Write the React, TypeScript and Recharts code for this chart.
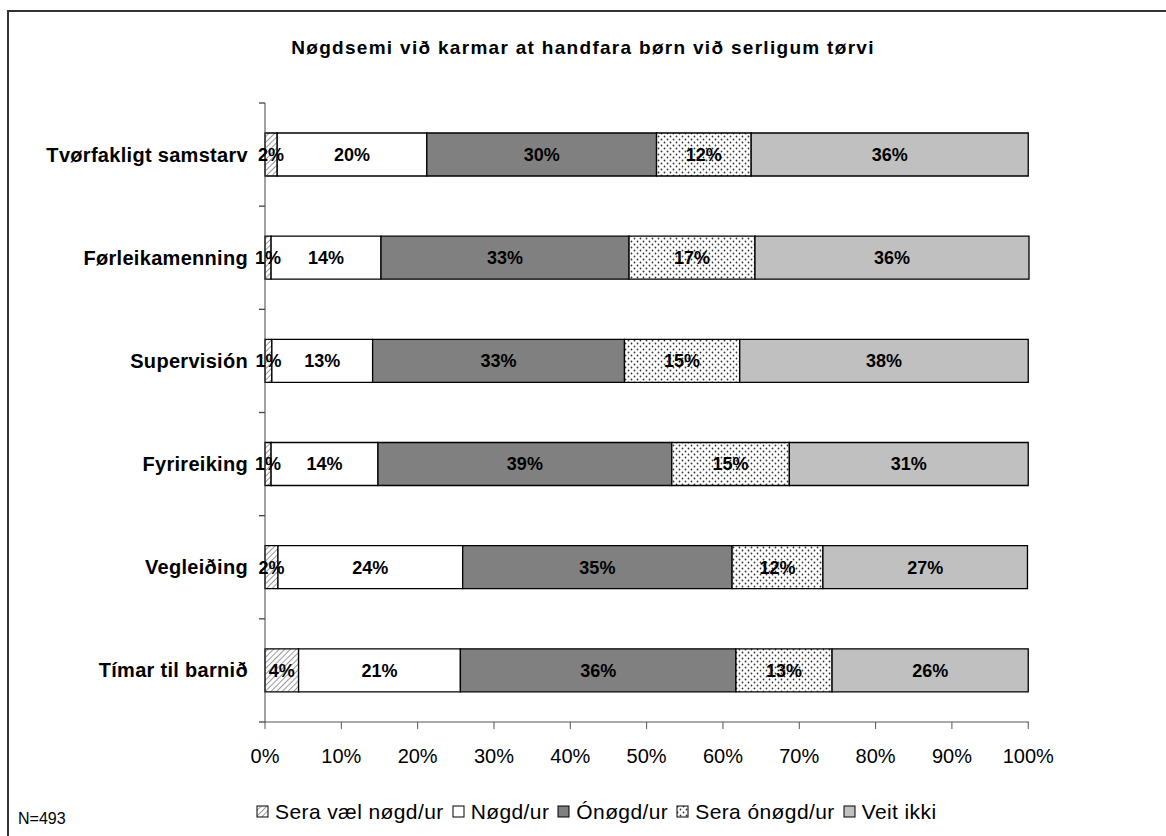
import { BarChart, Bar, XAxis, YAxis, LabelList } from 'recharts';

const categories = ['Tvørfakligt samstarv', 'Førleikamenning', 'Supervisión', 'Fyrireiking', 'Vegleiðing', 'Tímar til barnið'];
const seraVael = [1.6, 0.8, 0.9, 0.8, 1.7, 4.4];
const nogd = [19.6, 14.4, 13.2, 14.0, 24.2, 21.2];
const onogd = [30.1, 32.5, 33.0, 38.5, 35.3, 36.1];
const seraOnogd = [12.4, 16.5, 15.1, 15.4, 11.9, 12.6];
const veitIkki = [36.3, 35.9, 37.8, 31.3, 26.8, 25.7];
const xTicks = [0, 10, 20, 30, 40, 50, 60, 70, 80, 90, 100];

const data = categories.map((name, i) => ({
  name,
  seraVael: seraVael[i],
  nogd: nogd[i],
  onogd: onogd[i],
  seraOnogd: seraOnogd[i],
  veitIkki: veitIkki[i],
}));

const series = [
  { key: 'seraVael', name: 'Sera væl nøgd/ur', fill: 'url(#hatch)' },
  { key: 'nogd', name: 'Nøgd/ur', fill: '#ffffff' },
  { key: 'onogd', name: 'Ónøgd/ur', fill: '#808080' },
  { key: 'seraOnogd', name: 'Sera ónøgd/ur', fill: 'url(#dots)' },
  { key: 'veitIkki', name: 'Veit ikki', fill: '#c0c0c0' },
];

const FONT = '"Liberation Sans", Arial, sans-serif';
const W = 1166;
const H = 836;
const PLOT_TOP = 103;
const PLOT_BOTTOM = 722;
const BAND = (PLOT_BOTTOM - PLOT_TOP) / categories.length;

const CategoryTick = (props: any) => {
  const { x, y, payload, index } = props;
  const axisX = x + 17;
  return (
    <g>
      <line x1={axisX - 6} x2={axisX} y1={y - BAND / 2} y2={y - BAND / 2} stroke="#444" strokeWidth={1.3} />
      {index === categories.length - 1 && (
        <line x1={axisX - 6} x2={axisX} y1={y + BAND / 2} y2={y + BAND / 2} stroke="#444" strokeWidth={1.3} />
      )}
      <text x={x} y={y} dy={7} textAnchor="end" fontFamily={FONT} fontWeight="bold" fontSize={20} letterSpacing={0.3} fill="#000">
        {payload.value}
      </text>
    </g>
  );
};

const App = () => {
  return (
    <div style={{ position: 'absolute', left: 0, top: 0, width: W, height: H, overflow: 'hidden', background: '#fff' }}>
      <div style={{ position: 'absolute', left: 7, top: 10, width: 1200, height: 900, border: '2px solid #333' }} />
      <div
        style={{
          position: 'absolute', left: 0, top: 37, width: W, textAlign: 'center',
          fontFamily: FONT, fontWeight: 'bold', fontSize: 19, letterSpacing: 1.3, color: '#000',
        }}
      >
        Nøgdsemi við karmar at handfara børn við serligum tørvi
      </div>
      <div style={{ position: 'absolute', left: 0, top: 0 }}>
        <BarChart
          width={W}
          height={H}
          data={data}
          layout="vertical"
          margin={{ top: PLOT_TOP, right: W - 1029, left: 8, bottom: H - PLOT_BOTTOM - 40 }}
        >
          <defs>
            <pattern id="hatch" width={4} height={4} patternUnits="userSpaceOnUse" patternTransform="rotate(45)">
              <rect width={4} height={4} fill="#fff" />
              <line x1={0} y1={0} x2={0} y2={4} stroke="#555" strokeWidth={1.2} />
            </pattern>
            <pattern id="dots" width={6} height={6} patternUnits="userSpaceOnUse">
              <rect width={6} height={6} fill="#fff" />
              <circle cx={1.5} cy={1.5} r={0.9} fill="#333" />
              <circle cx={4.5} cy={4.5} r={0.9} fill="#333" />
            </pattern>
          </defs>
          <XAxis
            type="number"
            domain={[0, 100]}
            ticks={xTicks}
            tickFormatter={(v) => `${v}%`}
            height={40}
            tickSize={7}
            tickMargin={20}
            stroke="#555"
            tick={{ fontFamily: FONT, fontSize: 20, fill: '#000' }}
            interval={0}
          />
          <YAxis
            type="category"
            dataKey="name"
            width={257}
            tickSize={6}
            tickMargin={11}
            tickLine={false}
            stroke="#444"
            tick={<CategoryTick />}
            interval={0}
          />
          {series.map((s) => (
            <Bar
              key={s.key}
              dataKey={s.key}
              name={s.name}
              stackId="a"
              fill={s.fill}
              stroke="#000"
              strokeWidth={1.3}
              barSize={43}
              isAnimationActive={false}
            >
              <LabelList
                dataKey={s.key}
                position="center"
                formatter={(v: any) => `${Math.round(Number(v))}%`}
                style={{ fontFamily: FONT, fontWeight: 'bold', fontSize: 18, fill: '#000' }}
              />
            </Bar>
          ))}
        </BarChart>
      </div>
      <div
        style={{
          position: 'absolute', left: 256, top: 800, display: 'flex', alignItems: 'center',
          fontFamily: FONT, fontSize: 21, letterSpacing: 0.4, color: '#000', whiteSpace: 'nowrap',
        }}
      >
        {series.map((s) => (
          <div key={s.key} style={{ display: 'flex', alignItems: 'center', marginRight: 8 }}>
            <svg width={14} height={14} style={{ marginRight: 5 }}>
              <rect x={1} y={1} width={11} height={11} fill={s.fill} stroke="#000" strokeWidth={1} />
            </svg>
            {s.name}
          </div>
        ))}
      </div>
      <div style={{ position: 'absolute', left: 18, top: 810, fontFamily: FONT, fontSize: 16, color: '#000' }}>
        N=493
      </div>
    </div>
  );
};

export default App;
